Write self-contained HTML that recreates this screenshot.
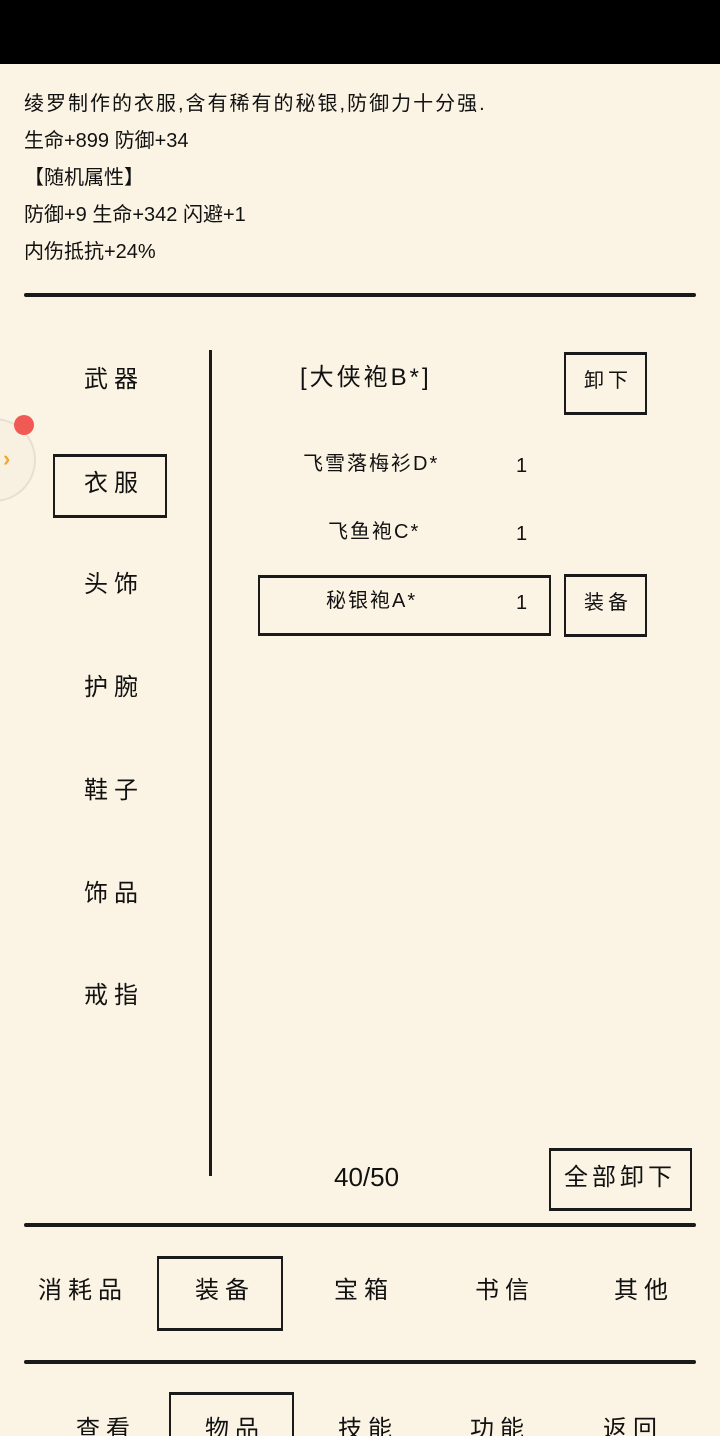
<!DOCTYPE html>
<html><head><meta charset="utf-8"><style>
html,body{margin:0;width:720px;height:1436px;overflow:hidden}
body{background:#fbf4e4;position:relative;font-family:"Liberation Sans","Noto Sans CJK SC",sans-serif;color:#111}
.a{position:absolute;white-space:nowrap}
.t{font-size:20px;line-height:24px}
.hl{position:absolute;left:24px;width:672px;height:4px;background:#1a1a1a;border-radius:2px}
.bx{position:absolute;border:2px solid #1a1a1a;border-top-width:3px;border-bottom-width:3px;box-sizing:border-box}
.m{font-size:24px;letter-spacing:6px;line-height:28px}
</style></head><body>
<div class="a" style="left:0;top:0;width:720px;height:64px;background:#000"></div>
<div class="a t" style="left:24px;top:92px;letter-spacing:2px">绫罗制作的衣服,含有稀有的秘银,防御力十分强.</div>
<div class="a t" style="left:24px;top:129px">生命+899 防御+34</div>
<div class="a t" style="left:24px;top:166px">【随机属性】</div>
<div class="a t" style="left:24px;top:203px">防御+9 生命+342 闪避+1</div>
<div class="a t" style="left:24px;top:240px">内伤抵抗+24%</div>
<div class="hl" style="top:293px"></div>
<div class="a" style="left:209px;top:350px;width:3px;height:826px;background:#1a1a1a"></div>
<div class="a m" style="left:84px;top:366px">武器</div>
<div class="bx" style="left:53px;top:454px;width:114px;height:64px"></div>
<div class="a m" style="left:84px;top:470px">衣服</div>
<div class="a m" style="left:84px;top:571px">头饰</div>
<div class="a m" style="left:84px;top:674px">护腕</div>
<div class="a m" style="left:84px;top:777px">鞋子</div>
<div class="a m" style="left:84px;top:880px">饰品</div>
<div class="a m" style="left:84px;top:982px">戒指</div>
<div class="a" style="left:-48px;top:418px;width:80px;height:80px;border-radius:50%;border:2px solid #e6e0d4;background:#f8f1e2"></div>
<div class="a" style="left:3px;top:446px;color:#f0a830;font-size:22px;font-weight:bold">›</div>
<div class="a" style="left:14px;top:415px;width:20px;height:20px;border-radius:50%;background:#ef5a54"></div>
<div class="a" style="left:300px;top:364px;font-size:24px;letter-spacing:3px;line-height:28px">[大侠袍B*]</div>
<div class="bx" style="left:564px;top:352px;width:83px;height:63px"></div>
<div class="a" style="left:584px;top:369px;font-size:20px;letter-spacing:4px;line-height:24px">卸下</div>
<div class="a t" style="left:303px;top:452px;letter-spacing:2px">飞雪落梅衫D*</div>
<div class="a t" style="left:516px;top:454px">1</div>
<div class="a t" style="left:328px;top:520px;letter-spacing:2px">飞鱼袍C*</div>
<div class="a t" style="left:516px;top:522px">1</div>
<div class="bx" style="left:258px;top:575px;width:293px;height:61px"></div>
<div class="a t" style="left:326px;top:589px;letter-spacing:2px">秘银袍A*</div>
<div class="a t" style="left:516px;top:591px">1</div>
<div class="bx" style="left:564px;top:574px;width:83px;height:63px"></div>
<div class="a" style="left:584px;top:591px;font-size:20px;letter-spacing:4px;line-height:24px">装备</div>
<div class="a" style="left:334px;top:1162px;font-size:26px;line-height:30px">40/50</div>
<div class="bx" style="left:549px;top:1148px;width:143px;height:63px"></div>
<div class="a" style="left:564px;top:1164px;font-size:24px;letter-spacing:4px;line-height:28px">全部卸下</div>
<div class="hl" style="top:1223px"></div>
<div class="a m" style="left:38px;top:1277px">消耗品</div>
<div class="bx" style="left:157px;top:1256px;width:126px;height:75px"></div>
<div class="a m" style="left:195px;top:1277px">装备</div>
<div class="a m" style="left:334px;top:1277px">宝箱</div>
<div class="a m" style="left:475px;top:1277px">书信</div>
<div class="a m" style="left:614px;top:1277px">其他</div>
<div class="hl" style="top:1360px"></div>
<div class="bx" style="left:169px;top:1392px;width:125px;height:60px"></div>
<div class="a m" style="left:76px;top:1416px">查看</div>
<div class="a m" style="left:205px;top:1416px">物品</div>
<div class="a m" style="left:338px;top:1416px">技能</div>
<div class="a m" style="left:470px;top:1416px">功能</div>
<div class="a m" style="left:603px;top:1416px">返回</div>
</body></html>
